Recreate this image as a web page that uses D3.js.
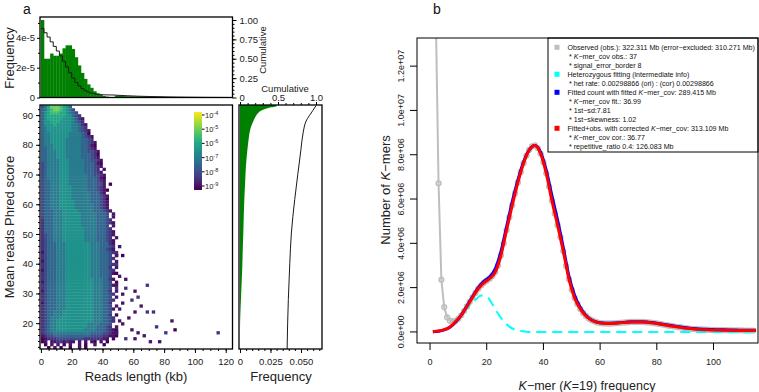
<!DOCTYPE html>
<html>
<head>
<meta charset="utf-8">
<script src="https://cdn.jsdelivr.net/npm/d3@7"></script>
<style>
  body { margin: 0; background: #fff; }
  svg { font-family: "Liberation Sans", Arial, sans-serif; }
</style>
</head>
<body>
<svg id="chart"></svg>
<script>
// ---------------- data: panel a ----------------
// read length histogram, 2 kb bins from 0 kb, density per bp (x 1e-5)
const lengthBinKb = 2;
const lengthFreq = [5.2, 2.6, 2.6, 2.95, 2.8, 2.8, 2.95, 3.3, 3.5, 3.5, 3.25, 2.7, 2.15, 1.65,
  1.25, 0.88, 0.65, 0.42, 0.28, 0.18, 0.1, 0.06, 0.035, 0.02,
  0.12, 0.11, 0.1, 0.09, 0.08, 0.08, 0.07, 0.07, 0.06, 0.06, 0.05, 0.05, 0.05, 0.04, 0.04,
  0.04, 0.04, 0.03, 0.03, 0.03, 0.03, 0.03, 0.02, 0.02, 0.02, 0.02, 0.02, 0.02, 0.02,
  0.01, 0.01, 0.01, 0.01, 0.01, 0.01, 0.01, 0.01, 0.01];

// 2D histogram: one string per 1-unit Phred row (top row = 92.3-93.3),
// one char per 2 kb column, digit d -> density 10^(-9.5 + d/2), space = empty
const heatTopQ = 93.3;
const heatStepQ = 1;
const heatRows = [
  "3579998764",
  "45789987653",
  "467888776543",
  "4677777766432",
  "46777776665421",
  "46677766665432",
  "466676666655421",
  "456666666655432",
  "4566666666554321",
  "4556666665555430",
  "45566666655554321",   // 82.8
  "45566666555554432",
  "455666665555544321",
  "455566665555544310",
  "445566665555544321",
  "4455566655555443321",
  "4455566655555444320",
  "4455566655555444321",
  "44555566655555443321",
  "34555566655555444310",
  "34555566655555444321", // 72.8
  "3455556665555544432 1",
  "34555566655555444321",
  "345555666555555443321",
  "345555666555555444310",
  "344555666555555444321",
  "344555666555555444331 0",
  "344555666655555444321",
  "3445556666555554443210",
  "344555666655555544421",
  "3445556666555555444321", // 62.8
  "3445556666555555444320",
  "3445556666655555444321",
  "3445556666655555544321",
  "3445556666655555544321",
  "34445556666655555444321",
  "3444555666666555554443 1",
  "3444555666666555554443 1",
  "24445556666665555544432",
  "244455566666655555444321",
  "2444555666666555554443 1", // 52.8
  "24445556666666555544432",
  "244455566666665555444321",
  "234455566666665555444321",
  "23445556666666555544432 1",
  "234455566666665555444321",
  "234445556666666655544421",
  "234445556666666655544432 1",
  "234445556666666655544321",
  "13444555666666665554443 2",
  "23444555666666665554443 1 0", // 42.8
  "234445556666666655544432",
  "13444555666666665554443 1",
  "234445556666666655544432",
  "23444555666666665554442 1",
  "134445556666666655544432",
  "2344455566666666555444310",
  "23444555666666665554443",
  "234445556666666665554421",
  "13444555666666666555443 0",
  "234445556666666665554431", // 32.8
  "23444555666666666555443 2",
  "13444555666666666555442 1",
  "234445556666666665554432",
  "23444555666666666555443 1",
  "234445556666666665554432",
  "13444555666666666555442",
  "23444555666666666555443 1",
  "234445556666666665554431",
  "23445556666666666555443",
  "23445556666666666555442 0", // 22.8
  "234555666666666665554432",
  "234556666666666665554432 1",
  "23455666666666655554443",
  "23455666666666655544432 1",
  "2345566666666655554443210",
  "2344555555555555444433210",
  "1233444444444444333322110",
  "0122233333333322222211 0",
  "01 11221211 1 1 10 1 0",
  " 0 1 1 0 1  1 0  1  0",
  "  0 1 0  0  1 0"
];

// sparse outlier cells of the 2D histogram
const outlierKb = [46, 48, 47, 50, 49, 55.6, 68.6, 48, 54.5, 61, 63.2, 52, 53, 58.8, 65.3, 50,
  69.7, 61, 73, 56, 47, 84.9, 52, 74, 58, 87.1, 49, 80.6, 63, 114.2, 67.5, 61, 55, 70, 76.2];
const outlierQ = [44, 42.5, 38, 36, 40.2, 35, 33.2, 33, 31.3, 30.7, 29, 29.5, 27, 27.4, 26.2, 25,
  24, 23.5, 23.8, 22, 21, 21.2, 19.5, 19, 18, 17.5, 17, 16.7, 16.5, 16.7, 15.6, 15, 14.5, 14, 13.4];
const outlierLevel = [2, 1, 2, 1, 2, 1, 2, 1, 2, 1, 2, 1, 1, 2, 1, 1,
  2, 1, 2, 1, 2, 1, 1, 2, 1, 0, 1, 2, 1, 2, 1, 1, 2, 1, 1];

// mean Phred score distribution (right panel)
const phredQ = [11.3, 16, 20, 24, 28, 33, 39, 45, 50, 56, 62, 68, 73, 78, 82, 84, 86, 88, 89.5,
  90.5, 91.3, 92, 92.5, 93, 93.4];
const phredFreq = [0, 0, 0.0001, 0.0004, 0.0008, 0.0013, 0.0019, 0.0023, 0.0027, 0.0031, 0.0036,
  0.0043, 0.0049, 0.006, 0.0071, 0.0078, 0.009, 0.011, 0.0128, 0.0145, 0.0165, 0.02, 0.024, 0.03, 0.03];
const phredCumQ = [11.3, 20, 28, 40, 50, 61.6, 70, 78, 84, 88, 91.6, 93.2];
const phredCum = [0.62, 0.627, 0.636, 0.655, 0.675, 0.72, 0.76, 0.8, 0.83, 0.87, 0.96, 1.0];

const colorbarTicks = [-9, -8, -7, -6, -5, -4];

// ---------------- data: panel b ----------------
// observed k-mer counts for K-mer frequency 1..114 (millions)
const obsCount = [48, 14.6, 6.71, 2.35, 1.12, 0.66, 0.51, 0.46, 0.5, 0.6,
  0.75, 0.94, 1.15, 1.36, 1.56, 1.76, 1.95, 2.1, 2.22, 2.31,
  2.4, 2.52, 2.7, 3.0, 3.45, 4.0, 4.6, 5.18, 5.72, 6.25,
  6.75, 7.22, 7.62, 7.96, 8.22, 8.38, 8.42, 8.3, 8.05, 7.66,
  7.16, 6.56, 5.92, 5.35, 4.82, 4.28, 3.65, 2.98, 2.38, 1.9,
  1.53, 1.26, 1.04, 0.86, 0.72, 0.61, 0.53, 0.47, 0.43, 0.4,
  0.39, 0.38, 0.38, 0.38, 0.39, 0.4, 0.41, 0.42, 0.43, 0.44,
  0.45, 0.45, 0.45, 0.45, 0.45, 0.44, 0.43, 0.42, 0.4, 0.38,
  0.36, 0.34, 0.31, 0.29, 0.27, 0.25, 0.23, 0.21, 0.19, 0.17,
  0.16, 0.14, 0.13, 0.12, 0.11, 0.11, 0.1, 0.1, 0.09, 0.09,
  0.09, 0.08, 0.08, 0.08, 0.08, 0.07, 0.07, 0.07, 0.07, 0.07,
  0.06, 0.06, 0.06, 0.06];

const fitK = [1, 3, 5, 7, 9, 11, 13, 15, 17, 19, 21, 23, 25, 27, 29, 31, 33, 35, 37, 39,
  41, 43, 45, 47, 49, 51, 53, 55, 57, 59, 61, 63, 65, 67, 69, 71, 73, 75, 77, 79,
  81, 83, 85, 87, 89, 91, 93, 95, 97, 99, 101, 103, 105, 107, 109, 111, 113, 115];
const fitObsCount = [0.01, 0.04, 0.1, 0.22, 0.47, 0.75, 1.15, 1.56, 1.95, 2.22, 2.4, 2.7, 3.45, 4.6,
  5.72, 6.75, 7.62, 8.22, 8.42, 8.05, 7.16, 5.92, 4.82, 3.65, 2.38, 1.53, 1.04, 0.72, 0.53,
  0.43, 0.39, 0.38, 0.39, 0.41, 0.43, 0.45, 0.45, 0.45, 0.43, 0.4, 0.36, 0.31, 0.27, 0.23,
  0.19, 0.16, 0.13, 0.11, 0.1, 0.09, 0.09, 0.08, 0.08, 0.07, 0.07, 0.06, 0.06, 0.06];
const fitCount = [0.01, 0.03, 0.09, 0.21, 0.44, 0.76, 1.17, 1.6, 2.0, 2.28, 2.48, 2.85, 3.62, 4.75,
  5.88, 6.86, 7.68, 8.22, 8.42, 8.12, 7.3, 6.15, 5.05, 3.82, 2.52, 1.66, 1.1, 0.74, 0.54,
  0.44, 0.4, 0.39, 0.4, 0.42, 0.44, 0.46, 0.46, 0.46, 0.44, 0.41, 0.37, 0.33, 0.29, 0.25,
  0.21, 0.18, 0.15, 0.13, 0.12, 0.11, 0.1, 0.1, 0.09, 0.09, 0.08, 0.08, 0.08, 0.08];
const hetK = [8, 10, 12, 14, 16, 18, 20, 22, 24, 26, 28, 30, 32, 34, 36, 114];
const hetCount = [0.35, 0.6, 0.9, 1.2, 1.45, 1.64, 1.6, 1.25, 0.82, 0.48, 0.24, 0.1, 0.04, 0.01, 0, 0];

const yTicksB = [0, 2, 4, 6, 8, 10, 12];
const yTickLabelsB = ["0.0e+00", "2.0e+06", "4.0e+06", "6.0e+06", "8.0e+06", "1.0e+07", "1.2e+07"];
const xTicksB = [0, 20, 40, 60, 80, 100];

const legendRows = [
  { color: "#bebebe", text: "Observed (obs.): 322.311 Mb (error−excluded: 310.271 Mb)" },
  { text: "* {K}−mer_cov obs.: 37" },
  { text: "* signal_error_border 8" },
  { color: "#00ffff", text: "Heterozygous fitting (intermediate info)" },
  { text: "* het rate: 0.00298866 (ori) : (cor) 0.00298866" },
  { color: "#0000ff", text: "Fitted count with fitted {K}−mer_cov: 289.415 Mb" },
  { text: "* {K}−mer_cov fit.: 36.99" },
  { text: "* 1st−sd:7.81" },
  { text: "* 1st−skewness: 1.02" },
  { color: "#ff0000", text: "Fitted+obs. with corrected {K}−mer_cov: 313.109 Mb" },
  { text: "* {K}−mer_cov cor.: 36.77" },
  { text: "* repetitive_ratio 0.4: 126.083 Mb" }
];

// ---------------- drawing ----------------
const width = 759, height = 392;
const svg = d3.select("#chart").attr("width", width).attr("height", height);
const green = "#008000";

function styleAxis(g, size) {
  g.select(".domain").remove();
  g.selectAll(".tick line").attr("stroke", "#000");
  g.selectAll(".tick text").attr("font-size", size).attr("fill", "#222");
}
function minor(g) {
  g.select(".domain").remove();
  g.selectAll(".tick line").attr("stroke", "#000");
  g.selectAll(".tick text").remove();
}
function frame(x0, y0, x1, y1, w) {
  svg.append("rect").attr("x", x0).attr("y", y0).attr("width", x1 - x0).attr("height", y1 - y0)
    .attr("fill", "none").attr("stroke", "#000").attr("stroke-width", w);
}

// shared scales (panel a)
const xLen = d3.scaleLinear().domain([-0.6, 124.4]).range([40, 232.5]);
const yQ = d3.scaleLinear().domain([11.3, 93.4]).range([349, 105]);

// --- top histogram
const yHist = d3.scaleLinear().domain([0, 5.4]).range([97.5, 17]);
const yCum = d3.scaleLinear().domain([0, 1]).range([97.5, 20]);

svg.append("g").selectAll("rect").data(lengthFreq).join("rect")
  .attr("x", (_, i) => xLen(i * lengthBinKb))
  .attr("width", xLen(lengthBinKb) - xLen(0) + 0.3)
  .attr("y", d => yHist(d))
  .attr("height", d => yHist(0) - yHist(d))
  .attr("fill", green);

const total = d3.sum(lengthFreq);
const cum = d3.cumsum(lengthFreq);
const surv = Array.from(cum, c => 1 - c / total);
const survPts = surv.map((s, i) => [i * lengthBinKb, s]);
survPts.push([lengthFreq.length * lengthBinKb, surv[surv.length - 1]]);
svg.append("path").datum(survPts)
  .attr("d", d3.line().curve(d3.curveStepAfter).x(d => xLen(d[0])).y(d => yCum(d[1])))
  .attr("fill", "none").attr("stroke", "#1a1a1a").attr("stroke-width", 1);

frame(40, 17, 232.5, 97.5, 1.3);

svg.append("g").attr("transform", "translate(40,0)")
  .call(d3.axisLeft(yHist).tickValues([0, 2, 4]).tickSize(3).tickPadding(2)
    .tickFormat(d => d === 0 ? "0" : d + "e-5"))
  .call(g => styleAxis(g, 9.5));
svg.append("g").attr("transform", "translate(40,0)")
  .call(d3.axisLeft(yHist).tickValues([1, 3, 5]).tickSize(2)).call(minor);
svg.append("g").attr("transform", "translate(232.5,0)")
  .call(d3.axisRight(yCum).tickValues([0, 0.25, 0.5, 0.75, 1]).tickSize(4).tickPadding(3)
    .tickFormat(d => d === 0 ? "0" : d3.format(".2f")(d)))
  .call(g => styleAxis(g, 9.5));
svg.append("g").attr("transform", "translate(232.5,0)")
  .call(d3.axisRight(yCum).tickValues(d3.range(0.05, 1, 0.05)).tickSize(2)).call(minor);

svg.append("text").attr("transform", "translate(14,58) rotate(-90)")
  .attr("text-anchor", "middle").attr("font-size", 13).attr("fill", "#222").text("Frequency");
svg.append("text").attr("transform", "translate(266,50) rotate(-90)")
  .attr("text-anchor", "middle").attr("font-size", 9.5).attr("fill", "#222").text("Cumulative");

// --- heatmap
const heatColor = d3.scaleSequential(d3.interpolateViridis).domain([-9.28, -3.79]).clamp(true);
const levelToLog = d => -9.5 + d * 0.5;
const cells = [];
heatRows.forEach((row, r) => {
  const q0 = heatTopQ - (r + 1) * heatStepQ;
  [...row].forEach((c, i) => {
    if (c !== " ") cells.push({ kb: i * lengthBinKb, q: q0, level: +c });
  });
});
outlierKb.forEach((kb, i) => {
  const q0 = heatTopQ - Math.ceil((heatTopQ - outlierQ[i]) / heatStepQ) * heatStepQ;
  cells.push({ kb: Math.floor(kb / lengthBinKb) * lengthBinKb, q: q0, level: outlierLevel[i] });
});

svg.append("clipPath").attr("id", "heatClip").append("rect")
  .attr("x", 40).attr("y", 105).attr("width", 192.5).attr("height", 244);
svg.append("g").attr("clip-path", "url(#heatClip)")
  .selectAll("rect").data(cells).join("rect")
  .attr("x", d => xLen(d.kb))
  .attr("width", xLen(lengthBinKb) - xLen(0) + 0.3)
  .attr("y", d => yQ(d.q + heatStepQ))
  .attr("height", yQ(0) - yQ(heatStepQ) + 0.3)
  .attr("fill", d => heatColor(levelToLog(d.level)));

frame(40, 105, 232.5, 349, 1.3);

svg.append("g").attr("transform", "translate(40,0)")
  .call(d3.axisLeft(yQ).tickValues(d3.range(20, 91, 10)).tickSize(4).tickPadding(3))
  .call(g => styleAxis(g, 9.5));
svg.append("g").attr("transform", "translate(40,0)")
  .call(d3.axisLeft(yQ).tickValues(d3.range(12, 94, 2)).tickSize(2)).call(minor);
svg.append("g").attr("transform", "translate(0,349)")
  .call(d3.axisBottom(xLen).tickValues(d3.range(0, 121, 20)).tickSize(4).tickPadding(5))
  .call(g => styleAxis(g, 9.5));
svg.append("g").attr("transform", "translate(0,349)")
  .call(d3.axisBottom(xLen).tickValues(d3.range(5, 124, 5)).tickSize(2)).call(minor);

svg.append("text").attr("transform", "translate(14,227) rotate(-90)")
  .attr("text-anchor", "middle").attr("font-size", 13).attr("fill", "#222").text("Mean reads Phred score");
svg.append("text").attr("x", 136).attr("y", 381)
  .attr("text-anchor", "middle").attr("font-size", 13).attr("fill", "#222").text("Reads length (kb)");

// colorbar
const cbScale = d3.scaleLinear().domain([-9.28, -3.79]).range([190, 112]);
const grad = svg.append("defs").append("linearGradient").attr("id", "cbGrad")
  .attr("x1", 0).attr("x2", 0).attr("y1", 1).attr("y2", 0);
d3.range(0, 1.0001, 0.1).forEach(t => {
  grad.append("stop").attr("offset", t).attr("stop-color", d3.interpolateViridis(t));
});
svg.append("rect").attr("x", 194).attr("y", 112).attr("width", 8).attr("height", 78)
  .attr("fill", "url(#cbGrad)");
const cbG = svg.append("g");
colorbarTicks.forEach(t => {
  const y = cbScale(t);
  cbG.append("line").attr("x1", 202).attr("x2", 204.5).attr("y1", y).attr("y2", y).attr("stroke", "#000");
  const tx = cbG.append("text").attr("x", 205).attr("y", y + 3).attr("font-size", 7.5).attr("fill", "#222");
  tx.append("tspan").text("10");
  tx.append("tspan").attr("dy", -3).attr("font-size", 5.5).text(String(t));
});

// --- right panel: Phred frequency
const xF = d3.scaleLinear().domain([-0.0008, 0.0672]).range([239, 322]);
const xC = d3.scaleLinear().domain([0, 1]).range([240, 316]);
svg.append("path").datum(phredQ.map((q, i) => [q, phredFreq[i]]))
  .attr("d", d3.area().curve(d3.curveMonotoneY).y(d => yQ(d[0])).x0(xF(0)).x1(d => xF(d[1])))
  .attr("fill", green);
svg.append("path").datum(phredCumQ.map((q, i) => [q, phredCum[i]]))
  .attr("d", d3.line().curve(d3.curveMonotoneY).y(d => yQ(d[0])).x(d => xC(d[1])))
  .attr("fill", "none").attr("stroke", "#1a1a1a").attr("stroke-width", 1);

frame(239, 105, 322, 349, 1.3);

svg.append("g").attr("transform", "translate(0,349)")
  .call(d3.axisBottom(xF).tickValues([0, 0.025, 0.05]).tickSize(4).tickPadding(5)
    .tickFormat(d => d === 0 ? "0" : d3.format(".3f")(d)))
  .call(g => styleAxis(g, 9.5));
svg.append("g").attr("transform", "translate(0,349)")
  .call(d3.axisBottom(xF).tickValues(d3.range(0.005, 0.066, 0.005)).tickSize(2)).call(minor);
// the "0" of this top axis coincides with the "0" of the cumulative axis above
svg.append("g").attr("transform", "translate(0,105)")
  .call(d3.axisTop(xC).tickValues([0, 0.5, 1]).tickSize(3).tickPadding(1)
    .tickFormat(d => d === 0 ? "" : d3.format(".1f")(d)))
  .call(g => styleAxis(g, 9.5));
svg.append("g").attr("transform", "translate(0,105)")
  .call(d3.axisTop(xC).tickValues(d3.range(0.1, 1.05, 0.1)).tickSize(2)).call(minor);
svg.append("text").attr("x", 285).attr("y", 91.5).attr("text-anchor", "middle")
  .attr("font-size", 9.5).attr("fill", "#222").text("Cumulative");
svg.append("text").attr("x", 281).attr("y", 381)
  .attr("text-anchor", "middle").attr("font-size", 13).attr("fill", "#222").text("Frequency");

svg.append("text").attr("x", 23).attr("y", 14).attr("font-size", 14).attr("fill", "#111").text("a");

// ---------------- panel b ----------------
const xk = d3.scaleLinear().domain([-4.6, 115.7]).range([417, 758]);
const yk = d3.scaleLinear().domain([-0.5, 13.27]).range([343, 38]);

svg.append("clipPath").attr("id", "bClip").append("rect")
  .attr("x", 417).attr("y", 38).attr("width", 341).attr("height", 305);
const pb = svg.append("g").attr("clip-path", "url(#bClip)");

const obsPts = obsCount.map((v, i) => [i + 1, v]);
pb.append("path").datum(obsPts)
  .attr("d", d3.line().x(d => xk(d[0])).y(d => yk(d[1])))
  .attr("fill", "none").attr("stroke", "#bebebe").attr("stroke-width", 2);
pb.append("g").selectAll("circle").data(obsPts).join("circle")
  .attr("cx", d => xk(d[0])).attr("cy", d => yk(d[1])).attr("r", 2.4)
  .attr("fill", "none").attr("stroke", "#bebebe").attr("stroke-width", 1.5);

pb.append("path").datum(hetK.map((k, i) => [k, hetCount[i]]))
  .attr("d", d3.line().curve(d3.curveMonotoneX).x(d => xk(d[0])).y(d => yk(d[1])))
  .attr("fill", "none").attr("stroke", "#00ffff").attr("stroke-width", 2)
  .attr("stroke-dasharray", "10,6");

pb.append("path").datum(fitK.map((k, i) => [k, fitCount[i]]))
  .attr("d", d3.line().curve(d3.curveMonotoneX).x(d => xk(d[0])).y(d => yk(d[1])))
  .attr("fill", "none").attr("stroke", "#0000ff").attr("stroke-width", 3);
pb.append("path").datum(fitK.map((k, i) => [k, fitObsCount[i]]))
  .attr("d", d3.line().curve(d3.curveMonotoneX).x(d => xk(d[0])).y(d => yk(d[1])))
  .attr("fill", "none").attr("stroke", "#ff0000").attr("stroke-width", 3);

// legend
const lgX = 548, lgY = 38, lgH = 114;
svg.append("rect").attr("x", lgX).attr("y", lgY).attr("width", 758 - lgX).attr("height", lgH)
  .attr("fill", "#fff").attr("stroke", "#000").attr("stroke-width", 1);
legendRows.forEach((row, i) => {
  const cy = 47.3 + i * 9;
  if (row.color) {
    svg.append("rect").attr("x", 554.5).attr("y", cy - 2.5).attr("width", 5).attr("height", 5)
      .attr("fill", row.color);
  }
  const t = svg.append("text").attr("x", row.color ? 567.5 : 569).attr("y", cy + 2.4)
    .attr("font-size", 7.1).attr("fill", "#111");
  row.text.split(/(\{K\})/).forEach(part => {
    if (part === "{K}") t.append("tspan").attr("font-style", "italic").text("K");
    else if (part) t.append("tspan").text(part);
  });
});

frame(417, 38, 758, 343, 1);

// axes b
const axB = svg.append("g");
yTicksB.forEach((v, i) => {
  const y = yk(v);
  axB.append("line").attr("x1", 410).attr("x2", 417).attr("y1", y).attr("y2", y).attr("stroke", "#000");
  axB.append("text").attr("transform", `translate(404,${y}) rotate(-90)`)
    .attr("text-anchor", "middle").attr("font-size", 9).attr("fill", "#222").text(yTickLabelsB[i]);
});
xTicksB.forEach(v => {
  const x = xk(v);
  axB.append("line").attr("x1", x).attr("x2", x).attr("y1", 343).attr("y2", 350).attr("stroke", "#000");
  axB.append("text").attr("x", x).attr("y", 364.5).attr("text-anchor", "middle")
    .attr("font-size", 9).attr("fill", "#222").text(v);
});

const yt = svg.append("text").attr("transform", "translate(390,190) rotate(-90)")
  .attr("text-anchor", "middle").attr("font-size", 13).attr("fill", "#222");
yt.append("tspan").text("Number of ");
yt.append("tspan").attr("font-style", "italic").text("K");
yt.append("tspan").text("−mers");

const xt = svg.append("text").attr("x", 587).attr("y", 389.5).attr("text-anchor", "middle")
  .attr("font-size", 12.5).attr("fill", "#222");
xt.append("tspan").attr("font-style", "italic").text("K");
xt.append("tspan").text("−mer (");
xt.append("tspan").attr("font-style", "italic").text("K");
xt.append("tspan").text("=19) frequency");

svg.append("text").attr("x", 433).attr("y", 14).attr("font-size", 14).attr("fill", "#111").text("b");
</script>
</body>
</html>
